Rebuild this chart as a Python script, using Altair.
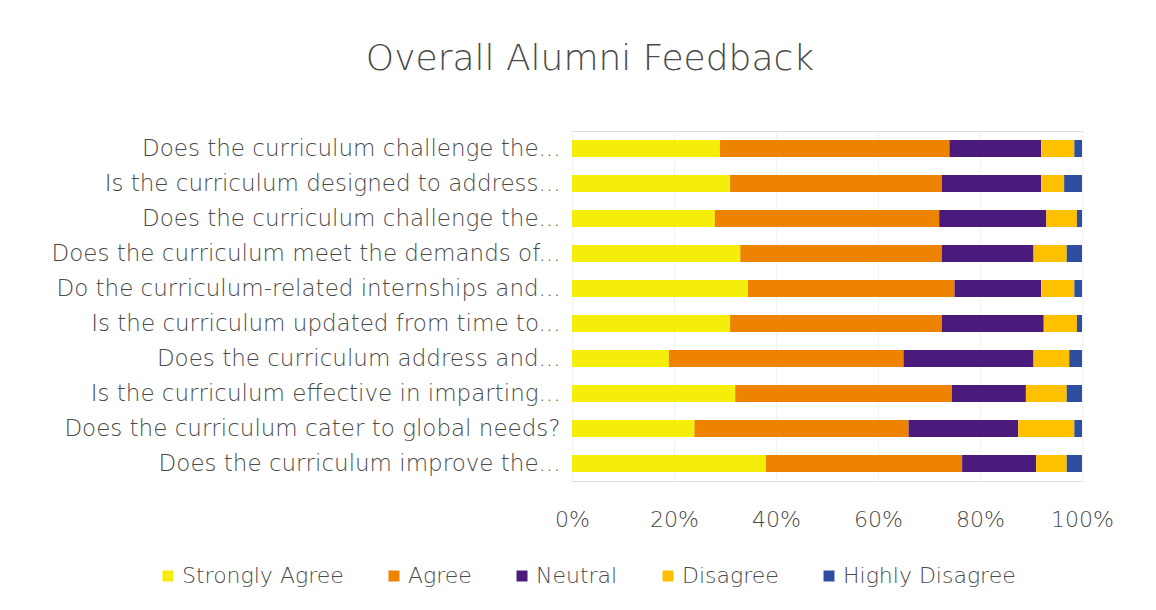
import json
import altair as alt
import pandas as pd

questions = [
    "Does the curriculum challenge the...",
    "Is the curriculum designed to address...",
    "Does the curriculum challenge the...",
    "Does the curriculum meet the demands of...",
    "Do the curriculum-related internships and...",
    "Is the curriculum updated from time to...",
    "Does the curriculum address and...",
    "Is the curriculum effective in imparting...",
    "Does the curriculum cater to global needs?",
    "Does the curriculum improve the...",
]
categories = ["Strongly Agree", "Agree", "Neutral", "Disagree", "Highly Disagree"]
strongly_agree = [29, 31, 28, 33, 34.5, 31, 19, 32, 24, 38]
agree = [45, 41.5, 44, 39.5, 40.5, 41.5, 46, 42.5, 42, 38.5]
neutral = [18, 19.5, 21, 18, 17, 20, 25.5, 14.5, 21.5, 14.5]
disagree = [6.5, 4.5, 6, 6.5, 6.5, 6.5, 7, 8, 11, 6]
highly_disagree = [1.5, 3.5, 1, 3, 1.5, 1, 2.5, 3, 1.5, 3]
colors = ["#F5EE0A", "#EE8300", "#4A1A7C", "#FFC000", "#2E4FA0"]

series = [strongly_agree, agree, neutral, disagree, highly_disagree]
rows = []
for ci, (cat, vals) in enumerate(zip(categories, series)):
    for qi, v in enumerate(vals):
        rows.append({"q": qi, "cat": cat, "order": ci, "value": v})
df = pd.DataFrame(rows)

label_expr = "[" + ",".join(json.dumps(q) for q in questions) + "][datum.value]"
font = "DejaVu Sans"
txt = "#4a4a4a"
fs = 22
fw = 200

chart = alt.Chart(df).mark_bar(size=17).encode(
    y=alt.Y("q:O", sort=list(range(len(questions))),
            scale=alt.Scale(paddingInner=0.5, paddingOuter=0.25),
            axis=alt.Axis(title=None, labelExpr=label_expr, ticks=False, domain=False,
                          labelPadding=12, labelFontSize=23, labelFont=font,
                          labelFontWeight=fw, labelColor=txt, labelLimit=700)),
    x=alt.X("value:Q", stack="normalize",
            scale=alt.Scale(domain=[0, 1]),
            axis=alt.Axis(title=None, format="%", values=[0, 0.2, 0.4, 0.6, 0.8, 1.0],
                          ticks=False, domain=False, labelPadding=28, labelFontSize=fs,
                          labelFont=font, labelFontWeight=fw, labelColor=txt, grid=True,
                          gridColor="#f2f2f2", labelFlush=False)),
    color=alt.Color("cat:N", sort=categories,
                    scale=alt.Scale(domain=categories, range=colors),
                    legend=alt.Legend(title=None, orient="none", direction="horizontal",
                                      legendX=-415, legendY=434, padding=0,
                                      symbolType="square", symbolSize=121,
                                      symbolStrokeWidth=0, labelFontSize=fs,
                                      labelFont=font, labelFontWeight=fw, labelColor=txt,
                                      labelLimit=400, columnPadding=39, labelOffset=3)),
    order=alt.Order("order:Q", sort="ascending"),
).properties(
    width=510,
    height=350,
    title=alt.TitleParams("Overall Alumni Feedback", fontSize=36, font=font,
                          fontWeight=fw, color=txt, anchor="middle",
                          frame="group", dx=-237, offset=53),
    autosize=alt.AutoSizeParams(type="none"),
    padding={"left": 564, "top": 123, "right": 66, "bottom": 121},
).configure_view(stroke=None).configure(background="white")

chart.save("out.html", embed_options={"renderer": "svg", "actions": False})
